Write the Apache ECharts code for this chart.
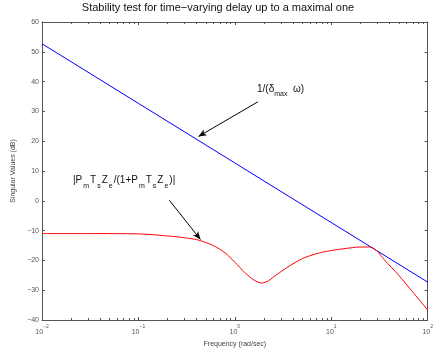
<!DOCTYPE html>
<html><head><meta charset="utf-8">
<script src="https://cdn.jsdelivr.net/npm/echarts@6/dist/echarts.min.js"></script>
<style>html,body{margin:0;padding:0;background:#fff}#c{width:436px;height:356px}</style>
</head><body><div id="c"></div>
<script>
// Data
const boundFreq = [0.01, 0.1, 1, 10, 100];
const boundDB = [52.7, 32.7, 12.7, -7.3, -27.3];
const sensFreq = [0.01, 0.0316, 0.1, 0.158, 0.2, 0.251, 0.316, 0.398, 0.501, 0.631, 0.794, 1.0, 1.26, 1.58, 1.91, 2.24, 2.51, 3.16, 3.98, 5.01, 6.31, 7.94, 10, 12.6, 15.8, 20, 25.1, 29.5, 35.5, 50.1, 70.8, 100];
const sensDB = [-11.0, -11.0, -11.1, -11.5, -11.8, -12.1, -12.5, -13.0, -14.0, -15.4, -17.5, -20.6, -24.0, -26.6, -27.6, -26.8, -25.6, -23.3, -21.2, -19.4, -18.2, -17.3, -16.7, -16.2, -15.8, -15.5, -15.5, -16.7, -19.8, -25.0, -30.8, -36.7];
const xTickLabels = {'0.01': '−2', '0.1': '−1', '1': '0', '10': '1', '100': '2'};
const minorTickValues = [0.02,0.03,0.04,0.05,0.06,0.07,0.08,0.09,
  0.2,0.3,0.4,0.5,0.6,0.7,0.8,0.9, 2,3,4,5,6,7,8,9, 20,30,40,50,60,70,80,90];
const titleText = 'Stability test for time−varying delay up to a maximal one';
const xName = 'Frequency (rad/sec)';
const yName = 'Singular Values (dB)';

const FONT = 'Liberation Sans, Arial, Helvetica, sans-serif';
const AX = '#555';
const chart = echarts.init(document.getElementById('c'), null, {renderer: 'canvas'});

function xFmt(v) {
  const key = String(+v.toPrecision(3));
  const e = xTickLabels[key] !== undefined ? xTickLabels[key] : String(Math.round(Math.log10(v)));
  return '{b|10}{e|' + e + '}';
}

const option = {
  animation: false,
  backgroundColor: '#fff',
  title: {
    text: titleText, left: 'center', top: 2, padding: 0,
    textStyle: {fontFamily: FONT, fontSize: 11, fontWeight: 'normal', color: '#111'}
  },
  grid: {left: 42, right: 3, top: 22, bottom: 36, containLabel: false},
  xAxis: [{
    type: 'log', logBase: 10, min: 0.01, max: 100, position: 'bottom',
    name: xName, nameLocation: 'middle', nameGap: 18,
    nameTextStyle: {fontFamily: FONT, fontSize: 7, color: '#444'},
    axisLine: {show: true, onZero: false, lineStyle: {color: AX, width: 1}},
    axisTick: {show: true, inside: true, length: 3, lineStyle: {color: AX}},
    splitLine: {show: false}, minorTick: {show: false},
    axisLabel: {
      margin: 4, formatter: xFmt, lineHeight: 12,
      rich: {
        b: {fontFamily: FONT, fontSize: 7, color: '#555', verticalAlign: 'bottom'},
        e: {fontFamily: FONT, fontSize: 5, color: '#555', verticalAlign: 'top'}
      }
    }
  }, {
    type: 'log', logBase: 10, min: 0.01, max: 100, position: 'top',
    axisLine: {show: true, onZero: false, lineStyle: {color: AX, width: 1}},
    axisTick: {show: true, inside: true, length: 3, lineStyle: {color: AX}},
    axisLabel: {show: false}, splitLine: {show: false}
  }],
  yAxis: [{
    type: 'value', min: -40, max: 60, interval: 10, position: 'left',
    name: yName, nameLocation: 'middle', nameGap: 14, nameRotate: 90,
    nameTextStyle: {fontFamily: FONT, fontSize: 7, color: '#444'},
    axisLine: {show: true, onZero: false, lineStyle: {color: AX, width: 1}},
    axisTick: {show: true, inside: true, length: 3, lineStyle: {color: AX}},
    axisLabel: {margin: 3, fontFamily: FONT, fontSize: 7, color: '#555',
      formatter: v => (v < 0 ? '−' + Math.abs(v) : String(v))},
    splitLine: {show: false}
  }, {
    type: 'value', min: -40, max: 60, interval: 10, position: 'right',
    axisLine: {show: true, onZero: false, lineStyle: {color: AX, width: 1}},
    axisTick: {show: true, inside: true, length: 3, lineStyle: {color: AX}},
    axisLabel: {show: false}, splitLine: {show: false}
  }],
  series: [{
    name: 'bound', type: 'line', xAxisIndex: 0, yAxisIndex: 0,
    data: boundFreq.map((f, i) => [f, boundDB[i]]),
    showSymbol: false, symbol: 'none',
    lineStyle: {color: '#0000ff', width: 1}, itemStyle: {color: '#0000ff'},
    markLine: {
      silent: true, symbol: ['none', 'arrow'], symbolSize: [5, 8],
      label: {show: false},
      lineStyle: {color: '#000', width: 1, type: 'solid'},
      itemStyle: {color: '#000'},
      data: [
        [{coord: [1.73, 33.2]}, {coord: [0.42, 21.6]}],
        [{coord: [0.209, 0.2]}, {coord: [0.44, -13.0]}]
      ]
    }
  }, {
    name: 'sens', type: 'line', xAxisIndex: 0, yAxisIndex: 0,
    data: sensFreq.map((f, i) => [f, sensDB[i]]),
    showSymbol: false, symbol: 'none', smooth: 0.25,
    lineStyle: {color: '#ff0000', width: 1}, itemStyle: {color: '#ff0000'}
  }, {
    name: 'minor', type: 'custom', xAxisIndex: 0, yAxisIndex: 0, silent: true, clip: false,
    data: minorTickValues.map(v => [v, -40]),
    renderItem: function (params, api) {
      const cs = params.coordSys;
      const p = api.coord([api.value(0), -40]);
      const x = Math.round(p[0]) + 0.5;
      const yb = cs.y + cs.height, yt = cs.y;
      return {type: 'group', children: [
        {type: 'line', shape: {x1: x, y1: yb, x2: x, y2: yb - 2}, style: {stroke: AX, lineWidth: 1}},
        {type: 'line', shape: {x1: x, y1: yt, x2: x, y2: yt + 2}, style: {stroke: AX, lineWidth: 1}}
      ]};
    }
  }],
  graphic: [{
    type: 'text', left: 257, top: 84,
    style: {
      text: '{n|1/(δ}{s|max}{n|  ω)}', lineHeight: 14,
      rich: {
        n: {fontFamily: FONT, fontSize: 10, fill: '#111', verticalAlign: 'top'},
        s: {fontFamily: FONT, fontSize: 7, fill: '#111', verticalAlign: 'bottom'}
      }
    }
  }, {
    type: 'text', left: 73, top: 175,
    style: {
      text: '{n||P}{s|m}{n|T}{s|s}{n|Z}{s|e}{n|/(1+P}{s|m}{n|T}{s|s}{n|Z}{s|e}{n|)|}', lineHeight: 15,
      rich: {
        n: {fontFamily: FONT, fontSize: 10, fill: '#111', verticalAlign: 'top'},
        s: {fontFamily: FONT, fontSize: 7, fill: '#111', verticalAlign: 'bottom', padding: [0, 1, 0, 1]}
      }
    }
  }]
};
chart.setOption(option);
</script>
</body></html>
